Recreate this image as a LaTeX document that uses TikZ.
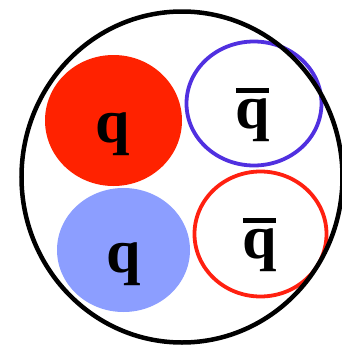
\documentclass[tikz,border=0pt]{standalone}
\usepackage{fontspec}
\setmainfont{Liberation Serif}
\definecolor{redfill}{RGB}{255,34,0}
\definecolor{bluefill}{RGB}{140,158,255}
\definecolor{blueline}{RGB}{80,48,224}
\definecolor{redline}{RGB}{255,32,16}
\newcommand{\qbarglyph}{\makebox[0pt][l]{\raisebox{35pt}{\rule{33pt}{5pt}}}q}
\begin{document}
\begin{tikzpicture}[x=1pt,y=-1pt,
  quark/.style={font=\fontsize{62}{62}\selectfont\bfseries, inner sep=0pt, anchor=base, text=black},
  outline/.style={line width=3.8pt}]
\useasboundingbox (0,0) rectangle (342,346);
\fill[redfill] (113.5,120.5) ellipse [x radius=68.5, y radius=65.5];
\fill[bluefill] (123.5,250) ellipse [x radius=66.5, y radius=62];
\draw[outline, blueline] (254,103.5) ellipse [x radius=67.5, y radius=62];
\draw[outline, redline] (260.5,234) ellipse [x radius=66, y radius=62.5];
\draw[line width=4.5pt] (182,177) ellipse [x radius=160.5, y radius=165.5];
\node[quark] (q1) at (113,142) {q};
\node[quark] (q2) at (124,272) {q};
\node[quark] (qb1) at (253,128) {\qbarglyph};
\node[quark] (qb2) at (260,258) {\qbarglyph};
\end{tikzpicture}
\end{document}
